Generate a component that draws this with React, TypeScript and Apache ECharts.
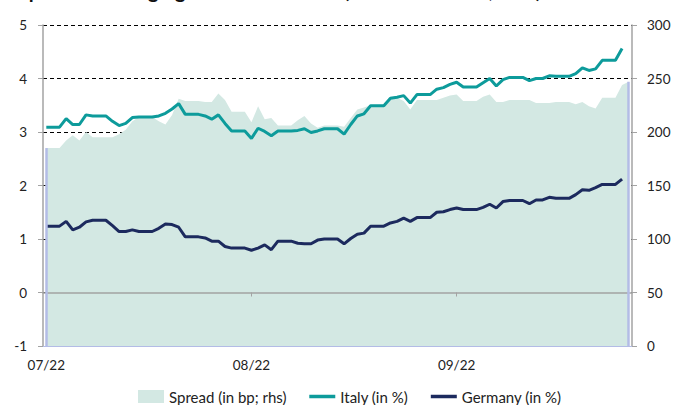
import React, { useEffect, useRef } from "react";
import * as echarts from "echarts";

// Calendar days from 2022-07-01 (weekends carry the Friday value, as in the source)
const START_DATE = "2022-07-01";
const DAY_COUNT = 89;

const italy = [
  3.09, 3.09, 3.09, 3.25, 3.14, 3.14, 3.32, 3.30, 3.30, 3.30,
  3.20, 3.12, 3.16, 3.27, 3.28, 3.28, 3.28, 3.30, 3.35, 3.43,
  3.53, 3.33, 3.33, 3.33, 3.30, 3.24, 3.32, 3.16, 3.02, 3.02,
  3.02, 2.88, 3.07, 3.01, 2.93, 3.02, 3.02, 3.02, 3.03, 3.06,
  2.99, 3.02, 3.06, 3.06, 3.06, 2.96, 3.14, 3.30, 3.34, 3.49,
  3.49, 3.49, 3.63, 3.65, 3.68, 3.54, 3.70, 3.70, 3.70, 3.80,
  3.83, 3.89, 3.93, 3.84, 3.84, 3.84, 3.92, 4.00, 3.86, 3.98,
  4.02, 4.02, 4.02, 3.96, 4.00, 4.00, 4.05, 4.04, 4.04, 4.04,
  4.09, 4.20, 4.15, 4.18, 4.34, 4.34, 4.34, 4.56,
];

const germany = [
  1.24, 1.24, 1.24, 1.33, 1.17, 1.22, 1.32, 1.35, 1.35, 1.35,
  1.25, 1.14, 1.14, 1.17, 1.14, 1.14, 1.14, 1.20, 1.28, 1.27,
  1.22, 1.04, 1.04, 1.04, 1.02, 0.96, 0.96, 0.86, 0.83, 0.83,
  0.83, 0.79, 0.83, 0.89, 0.80, 0.96, 0.96, 0.96, 0.92, 0.91,
  0.91, 0.98, 1.00, 1.00, 1.00, 0.91, 1.01, 1.09, 1.11, 1.24,
  1.24, 1.24, 1.30, 1.33, 1.39, 1.33, 1.40, 1.40, 1.40, 1.50,
  1.51, 1.55, 1.58, 1.55, 1.55, 1.55, 1.59, 1.65, 1.58, 1.70,
  1.72, 1.72, 1.72, 1.66, 1.73, 1.73, 1.78, 1.76, 1.76, 1.76,
  1.83, 1.92, 1.91, 1.96, 2.02, 2.02, 2.02, 2.12,
];

const spread = [
  185, 185, 185, 192, 197, 192, 200, 195, 195, 195,
  195, 198, 202, 210, 214, 214, 214, 210, 207, 216,
  231, 229, 229, 229, 228, 228, 236, 230, 219, 219,
  219, 209, 224, 212, 213, 206, 206, 206, 211, 215,
  208, 204, 206, 206, 206, 205, 213, 221, 223, 225,
  225, 225, 233, 232, 229, 221, 230, 230, 230, 230,
  232, 234, 235, 229, 229, 229, 233, 235, 228, 228,
  230, 230, 230, 230, 227, 227, 227, 228, 228, 228,
  226, 228, 224, 222, 232, 232, 232, 244, 247,
];

const LABEL_SPREAD = "Spread (in bp; rhs)";
const LABEL_ITALY = "Italy (in %)";
const LABEL_GERMANY = "Germany (in %)";
const TITLE = "Spreads are edging wider once more (10Y benchmark, in %)";

const AREA = "#d3e8e3";
const LAVENDER = "#b3bce6";
const TEAL = "#0d9b9b";
const NAVY = "#1c2a5e";
const AXIS_GREY = "#a3a3a3";

function buildDays(): string[] {
  const out: string[] = [];
  const d0 = new Date(START_DATE + "T00:00:00Z");
  for (let i = 0; i < DAY_COUNT; i++) {
    const d = new Date(d0.getTime() + i * 86400000);
    out.push(d.toISOString().slice(0, 10));
  }
  return out;
}

const isMonthStart = (_i: number, v: string) => v.endsWith("-01");
const monthLabel = (v: string) => v.slice(5, 7) + "/" + v.slice(2, 4);

export default function App() {
  const ref = useRef<HTMLDivElement>(null);
  useEffect(() => {
    if (!ref.current) return;
    const chart = echarts.init(ref.current, undefined, { renderer: "svg" });
    const days = buildDays();
    const last = days.length - 1;
    const option: any = {
      animation: false,
      textStyle: { fontFamily: "Lato" },
      graphic: [
        {
          type: "text",
          x: 18,
          y: 0,
          style: {
            text: TITLE,
            font: "bold 20px Lato",
            fill: "#111",
            textVerticalAlign: "bottom",
          },
        },
      ],
      legend: {
        left: 138,
        top: 389,
        padding: 0,
        itemWidth: 26,
        itemHeight: 13,
        itemGap: 21,
        textStyle: { fontFamily: "Lato", fontSize: 15, color: "#222" },
        data: [
          { name: LABEL_SPREAD, icon: "rect", itemStyle: { color: AREA } },
          { name: LABEL_ITALY, itemStyle: { opacity: 0 }, lineStyle: { width: 3.5 } },
          { name: LABEL_GERMANY, itemStyle: { opacity: 0 }, lineStyle: { width: 3.5 } },
        ],
      },
      grid: { left: 43, right: 42, top: 25, bottom: 59 },
      xAxis: [
        {
          type: "category",
          data: days,
          boundaryGap: true,
          position: "bottom",
          axisLine: { show: true, onZero: false, lineStyle: { color: LAVENDER, width: 1 } },
          axisTick: { show: false },
          axisLabel: {
            interval: isMonthStart,
            formatter: monthLabel,
            margin: 12,
            fontSize: 13.5,
            color: "#222",
            fontFamily: "Lato",
          },
          splitLine: { show: false },
        },
        {
          type: "category",
          data: days,
          boundaryGap: true,
          position: "bottom",
          z: 3,
          axisLine: {
            show: true,
            onZero: true,
            onZeroAxisIndex: 0,
            lineStyle: { color: AXIS_GREY, width: 1.5 },
          },
          axisTick: {
            show: true,
            interval: isMonthStart,
            alignWithLabel: true,
            length: 4,
            lineStyle: { color: AXIS_GREY, width: 1 },
          },
          axisLabel: { show: false },
          splitLine: { show: false },
        },
      ],
      yAxis: [
        {
          type: "value",
          min: -1,
          max: 5,
          interval: 1,
          position: "left",
          axisLine: { show: true, lineStyle: { color: AXIS_GREY, width: 1.5 } },
          axisTick: { show: true, length: 5, lineStyle: { color: AXIS_GREY } },
          axisLabel: { margin: 16, fontSize: 13.5, color: "#222", fontFamily: "Lato" },
          splitLine: { show: true, lineStyle: { color: "#000", type: [4, 3], width: 1 } },
        },
        {
          type: "value",
          min: 0,
          max: 300,
          interval: 50,
          position: "right",
          axisLine: { show: true, lineStyle: { color: AXIS_GREY, width: 1.5 } },
          axisTick: { show: true, length: 5, lineStyle: { color: AXIS_GREY } },
          axisLabel: { margin: 15, fontSize: 13.5, color: "#222", fontFamily: "Lato" },
          splitLine: { show: false },
        },
      ],
      series: [
        {
          name: LABEL_SPREAD,
          type: "line",
          xAxisIndex: 0,
          yAxisIndex: 1,
          data: spread,
          symbol: "none",
          z: 1,
          lineStyle: { width: 0, color: AREA },
          itemStyle: { color: AREA },
          areaStyle: { color: AREA, opacity: 1 },
          markLine: {
            silent: true,
            symbol: "none",
            label: { show: false },
            lineStyle: { color: LAVENDER, width: 2.5, type: "solid" },
            data: [
              [{ coord: [days[0], 0] }, { coord: [days[0], spread[0]] }],
              [{ coord: [days[last], 0] }, { coord: [days[last], spread[last]] }],
            ],
          },
        },
        {
          name: LABEL_ITALY,
          type: "line",
          xAxisIndex: 0,
          yAxisIndex: 0,
          data: italy,
          symbol: "none",
          z: 4,
          lineStyle: { width: 3, color: TEAL },
          itemStyle: { color: TEAL },
        },
        {
          name: LABEL_GERMANY,
          type: "line",
          xAxisIndex: 0,
          yAxisIndex: 0,
          data: germany,
          symbol: "none",
          z: 4,
          lineStyle: { width: 3, color: NAVY },
          itemStyle: { color: NAVY },
        },
      ],
    };
    chart.setOption(option);
    return () => chart.dispose();
  }, []);
  return (
    <div
      ref={ref}
      style={{ position: "fixed", left: 0, top: 0, width: 674, height: 405, background: "#fff" }}
    />
  );
}
